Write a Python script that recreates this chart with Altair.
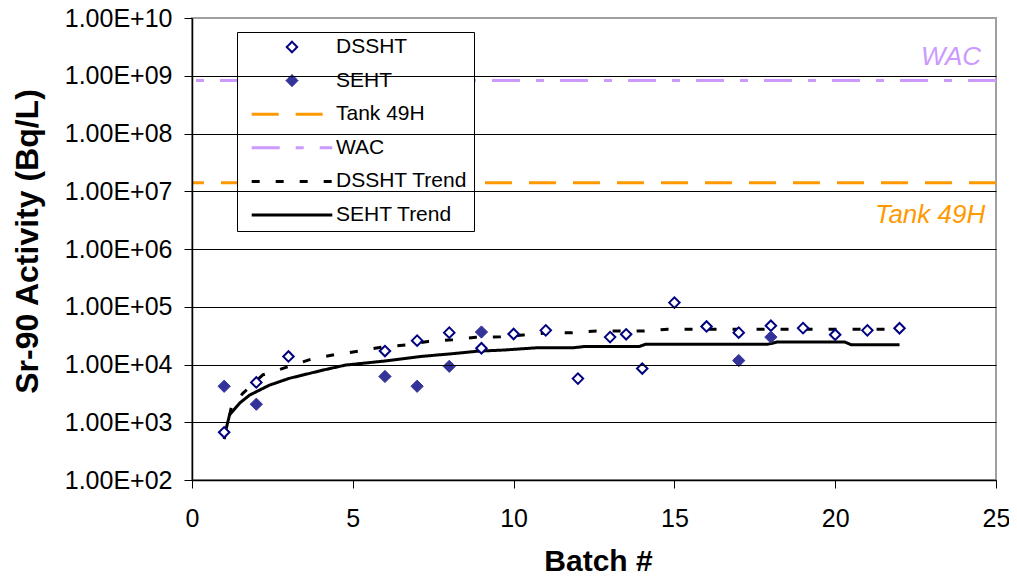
import altair as alt
import pandas as pd

# ---------------- data ----------------
dssht_batch = [1, 2, 3, 6, 7, 8, 9, 10, 11, 12, 13, 13.5, 14, 15, 16, 17, 18, 19, 20, 21, 22]
dssht_activity = [670, 4900, 13800, 17100, 25900, 35600, 19100, 33700, 39000, 5700, 29800,
                  33300, 8500, 118000, 45600, 35600, 47000, 42700, 32800, 39000, 42400]

seht_batch = [1, 2, 6, 7, 8, 9, 17, 18]
seht_activity = [4200, 2050, 6200, 4200, 9300, 36500, 11700, 29800]

dssht_trend_batch = [1.0, 1.22, 1.58, 2.2, 2.92, 3.69, 4.43, 5.18, 5.9, 6.67, 7.34, 8.1, 8.83,
                     9.6, 10.3, 11.09, 11.8, 12.58, 14.07, 14.79, 22.0]
dssht_trend_activity = [510, 1780, 3160, 6600, 8900, 12300, 14800, 17000, 20000, 21900, 25100,
                        26900, 29500, 30200, 32400, 35500, 35500, 38000, 38000, 40700, 40700]

seht_trend_batch = [1.0, 1.17, 1.48, 1.79, 2.4, 3.02, 4.05, 4.77, 6.0, 7.13, 8.16, 8.88, 9.7,
                    10.73, 11.86, 12.17, 13.9, 14.1, 17.9, 18.2, 20.3, 20.5, 22.0]
seht_trend_activity = [560, 1350, 2140, 2950, 4370, 5750, 7940, 9770, 11500, 13800, 15500, 17000,
                       17800, 19500, 19500, 20400, 20400, 22400, 22400, 24500, 24500, 21900, 21900]

limit_names = ["Tank 49H", "WAC"]
limit_values = [1.4e7, 8.3e8]

annot_text = ["WAC", "Tank 49H"]
annot_batch = [23.6, 22.95]
annot_activity = [2.1e9, 3.9e6]
annot_color = ["#CC99FF", "#FF9900"]

series_order = ["DSSHT", "SEHT", "Tank 49H", "WAC", "DSSHT Trend", "SEHT Trend"]

x_ticks = [0, 5, 10, 15, 20, 25]
y_ticks = [1e2, 1e3, 1e4, 1e5, 1e6, 1e7, 1e8, 1e9, 1e10]
y_tick_labels = ["1.00E+02", "1.00E+03", "1.00E+04", "1.00E+05", "1.00E+06",
                 "1.00E+07", "1.00E+08", "1.00E+09", "1.00E+10"]

# ---------------- styles ----------------
stroke_range = ["#000080", "#333399", "#FF9900", "#CC99FF", "#000000", "#000000"]
fill_range = ["#FFFFFF", "#333399", "transparent", "transparent", "transparent", "transparent"]
shape_range = ["diamond", "diamond", "stroke", "stroke", "stroke", "stroke"]
size_range = [110, 150, 6500, 6500, 6500, 6500]
width_range = [2, 1, 3, 3, 3, 3]
dash_range = [[1, 0], [1, 0], [27, 17], [28, 16, 8, 16], [8, 16], [1, 0]]

FONT = "Liberation Sans"

points_df = pd.DataFrame({
    "batch": dssht_batch + seht_batch,
    "activity": dssht_activity + seht_activity,
    "series": ["DSSHT"] * len(dssht_batch) + ["SEHT"] * len(seht_batch),
})
trend_df = pd.DataFrame({
    "batch": dssht_trend_batch + seht_trend_batch,
    "activity": dssht_trend_activity + seht_trend_activity,
    "series": ["DSSHT Trend"] * len(dssht_trend_batch) + ["SEHT Trend"] * len(seht_trend_batch),
})
limit_df = pd.DataFrame({"series": limit_names, "activity": limit_values})
annot_df = pd.DataFrame({"text": annot_text, "batch": annot_batch,
                         "activity": annot_activity, "color": annot_color})

label_expr = " : ".join(
    f"datum.value == {v:g} ? '{t}'" for v, t in zip(y_ticks, y_tick_labels)
) + " : ''"

x_scale = alt.Scale(domain=[0, 25], nice=False)
y_scale = alt.Scale(type="log", domain=[1e2, 1e10], nice=False)

x_axis = alt.Axis(values=x_ticks, format="d", grid=False, title="Batch #", labelFlush=False,
                  domainColor="black", domainWidth=1.5, tickColor="black", tickSize=8,
                  labelPadding=18, labelFont=FONT, labelFontSize=25, labelColor="black",
                  titleFont=FONT, titleFontSize=30, titleFontWeight="bold", titleColor="black",
                  titleX=406, titleY=90, titleBaseline="alphabetic", titleAlign="center",
                  zindex=1)
y_axis = alt.Axis(values=y_ticks, labelExpr=label_expr, grid=True,
                  gridColor={"condition": {"test": "datum.value >= 1e10", "value": "#A0A0A0"},
                             "value": "black"},
                  gridWidth=1, gridOpacity=1, title="Sr-90 Activity (Bq/L)", labelFlush=False,
                  domainColor="black", domainWidth=1.5, tickColor="black", tickSize=8,
                  labelPadding=12, labelFont=FONT, labelFontSize=25, labelColor="black",
                  titleFont=FONT, titleFontSize=32, titleFontWeight="bold", titleColor="black",
                  titleX=-165, titleY=223, titleAngle=270, titleBaseline="middle",
                  titleAlign="center", zindex=1)

leg = alt.Legend(title=None)

X = alt.X("batch:Q", scale=x_scale, axis=x_axis)
Y = alt.Y("activity:Q", scale=y_scale, axis=y_axis)
STROKE = alt.Stroke("series:N", scale=alt.Scale(domain=series_order, range=stroke_range), legend=leg)
FILL = alt.Fill("series:N", scale=alt.Scale(domain=series_order, range=fill_range), legend=leg)
SHAPE = alt.Shape("series:N", scale=alt.Scale(domain=series_order, range=shape_range), legend=leg)
SIZE = alt.Size("series:N", scale=alt.Scale(type="ordinal", domain=series_order, range=size_range), legend=leg)
SW = alt.StrokeWidth("series:N", scale=alt.Scale(type="ordinal", domain=series_order, range=width_range), legend=leg)
DASH = alt.StrokeDash("series:N", scale=alt.Scale(domain=series_order, range=dash_range), legend=leg)

rules = alt.Chart(limit_df).mark_rule().encode(
    y=alt.Y("activity:Q", scale=y_scale, axis=y_axis),
    stroke=STROKE, strokeWidth=SW, strokeDash=DASH,
)

lines = alt.Chart(trend_df).mark_line(interpolate="linear").encode(
    x=X, y=Y, stroke=STROKE, strokeWidth=SW, strokeDash=DASH,
)

points = alt.Chart(points_df).mark_point(opacity=1).encode(
    x=X, y=Y, stroke=STROKE, fill=FILL, shape=SHAPE, size=SIZE, strokeWidth=SW,
)

annots = alt.Chart(annot_df).mark_text(font=FONT, fontSize=26, fontStyle="italic",
                                       align="center", baseline="middle").encode(
    x=X, y=Y, text="text:N", color=alt.Color("color:N", scale=None),
)

chart = alt.layer(rules, lines, points, annots).properties(
    width=804, height=462,
    autosize=alt.AutoSizeParams(type="none"),
    padding={"left": 184, "top": 10, "right": 13, "bottom": 97},
).configure_view(
    stroke="#A0A0A0", strokeWidth=2,
).configure_legend(
    orient="none", legendX=45, legendY=14, padding=6,
    strokeColor="black", strokeWidth=1, fillColor="white",
    clipHeight=18, rowPadding=12.6, symbolOffset=7, labelOffset=2,
    labelFont=FONT, labelFontSize=21, labelColor="black", labelLimit=400,
    symbolOpacity=1,
)

chart.save("out.html", embed_options={"renderer": "svg", "actions": False})
